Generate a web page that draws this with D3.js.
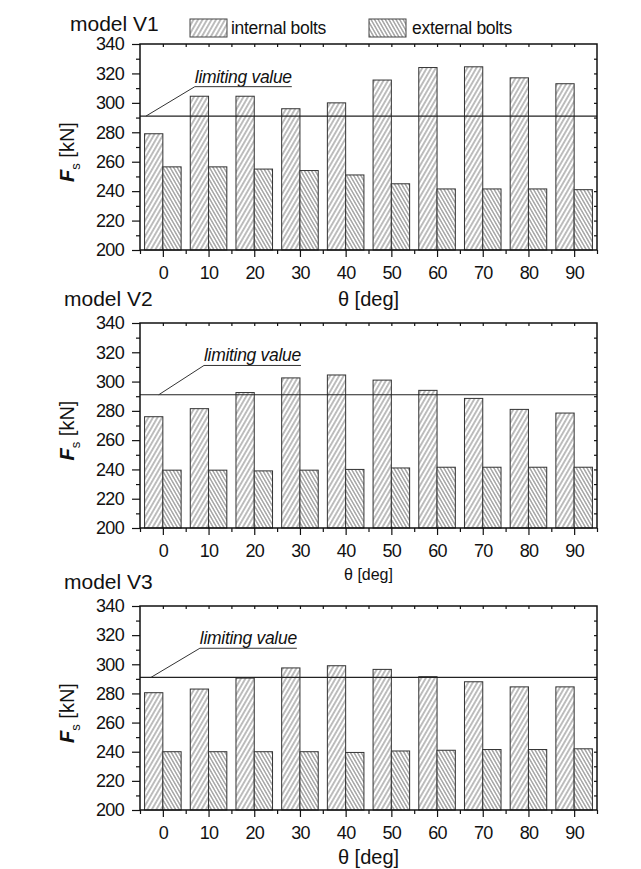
<!DOCTYPE html>
<html>
<head>
<meta charset="utf-8">
<script src="https://cdn.jsdelivr.net/npm/d3@7"></script>
<style>
  html, body { margin: 0; padding: 0; background: #fff; }
  svg { display: block; font-family: "Liberation Sans", Arial, sans-serif; }
</style>
</head>
<body>
<svg id="chart" width="641" height="869"></svg>
<script>
// ---------- data ----------
const categories = [0, 10, 20, 30, 40, 50, 60, 70, 80, 90];
const v1Internal = [279, 304.5, 304.5, 296, 300, 315.5, 324, 324.5, 317, 313];
const v1External = [256.5, 256.5, 255, 254, 251, 245, 241.5, 241.5, 241.5, 241];
const v2Internal = [276, 281.5, 292.5, 302.5, 304.5, 301, 294, 288.5, 281, 278.5];
const v2External = [239.5, 239.5, 239, 239.5, 240, 241, 241.5, 241.5, 241.5, 241.5];
const v3Internal = [280.5, 283, 290.5, 297.5, 299, 296.5, 291.5, 288, 284.5, 284.5];
const v3External = [240, 240, 240, 240, 239.5, 240.5, 241, 241.5, 241.5, 242];
const yTicks = [200, 220, 240, 260, 280, 300, 320, 340];
const limitingValue = 291;
const panelTitles = ["model V1", "model V2", "model V3"];
const seriesNames = ["internal bolts", "external bolts"];
const xTitle = "\u03B8 [deg]";
const limitLabel = "limiting value";

// ---------- layout ----------
const svg = d3.select("#chart");
const x = d3.scaleLinear().domain([-5, 95]).range([140, 597]);
const barHalf = 4; // in data units

const panels = [
  { title: panelTitles[0], internal: v1Internal, external: v1External, top: 44, bottom: 250,
    titleX: 70, titleY: 31, xTitleSize: 20, xTitleY: 306, leadStart: -3.7, leadKink: 7.0 },
  { title: panelTitles[1], internal: v2Internal, external: v2External, top: 323, bottom: 528,
    titleX: 64, titleY: 306, xTitleSize: 16, xTitleY: 580, leadStart: -0.9, leadKink: 9.0 },
  { title: panelTitles[2], internal: v3Internal, external: v3External, top: 606, bottom: 810,
    titleX: 64, titleY: 589, xTitleSize: 20, xTitleY: 864, leadStart: -2.6, leadKink: 8.1 }
];

// ---------- patterns ----------
const defs = svg.append("defs");
function hatch(id, spacing, angle) {
  const p = defs.append("pattern")
    .attr("id", id)
    .attr("patternUnits", "userSpaceOnUse")
    .attr("width", spacing).attr("height", spacing)
    .attr("patternTransform", `rotate(${angle})`);
  p.append("rect").attr("width", spacing).attr("height", spacing).attr("fill", "#fff");
  p.append("line").attr("x1", spacing / 2).attr("y1", 0).attr("x2", spacing / 2).attr("y2", spacing)
    .attr("stroke", "#5a5a5a").attr("stroke-width", 0.8);
}
hatch("hatchInt", 3.9, 30);
hatch("hatchExt", 3.1, -30);

panels.forEach((P, pi) => {
  const y = d3.scaleLinear().domain([200, 340]).range([P.bottom, P.top]);
  const g = svg.append("g");

  // bars
  const rows = categories.map((c, i) => ({ c, a: P.internal[i], b: P.external[i] }));
  g.selectAll("rect.int").data(rows).join("rect")
    .attr("x", d => x(d.c - barHalf)).attr("width", d => x(d.c) - x(d.c - barHalf))
    .attr("y", d => y(d.a)).attr("height", d => y(200) - y(d.a))
    .attr("fill", "url(#hatchInt)").attr("stroke", "#333").attr("stroke-width", 1);
  g.selectAll("rect.ext").data(rows).join("rect")
    .attr("x", d => x(d.c)).attr("width", d => x(d.c + barHalf) - x(d.c))
    .attr("y", d => y(d.b)).attr("height", d => y(200) - y(d.b))
    .attr("fill", "url(#hatchExt)").attr("stroke", "#333").attr("stroke-width", 1);

  // limiting line
  g.append("line")
    .attr("x1", x(-5)).attr("x2", x(95))
    .attr("y1", y(limitingValue)).attr("y2", y(limitingValue))
    .attr("stroke", "#222").attr("stroke-width", 1.2);

  // leader + label
  const uy = y(limitingValue + 20);
  const lbl = g.append("text")
    .attr("x", x(P.leadKink)).attr("y", uy - 4)
    .attr("font-size", 17.5).attr("font-style", "italic").attr("fill", "#111")
    .attr("letter-spacing", -0.3)
    .text(limitLabel);
  const len = lbl.node().getComputedTextLength();
  g.append("path")
    .attr("d", `M${x(P.leadStart)},${y(limitingValue)} L${x(P.leadKink)},${uy} L${x(P.leadKink) + len},${uy}`)
    .attr("fill", "none").attr("stroke", "#333").attr("stroke-width", 1);

  // axes
  const fontSize = 18;
  const left = g.append("g").attr("transform", `translate(${x(-5)},0)`)
    .call(d3.axisLeft(y).tickValues(yTicks).tickSize(8).tickPadding(8));
  left.select(".domain").remove();
  left.selectAll("text").attr("font-size", fontSize).attr("letter-spacing", -0.7)
    .attr("font-family", "Liberation Sans, Arial, sans-serif").attr("fill", "#111");
  const leftMinor = g.append("g").attr("transform", `translate(${x(-5)},0)`)
    .call(d3.axisLeft(y).tickValues(d3.range(210, 340, 20)).tickSize(4).tickFormat(""));
  leftMinor.select(".domain").remove();

  const right = g.append("g").attr("transform", `translate(${x(95)},0)`)
    .call(d3.axisRight(y).tickValues(d3.range(210, 340, 10)).tickSize(-3).tickFormat(""));
  right.select(".domain").remove();

  const top = g.append("g").attr("transform", `translate(0,${y(340)})`)
    .call(d3.axisTop(x).tickValues(d3.range(0, 95, 5)).tickSize(-3).tickFormat(""));
  top.select(".domain").remove();

  const bottom = g.append("g").attr("transform", `translate(0,${y(200)})`)
    .call(d3.axisBottom(x).tickValues(categories).tickSize(7).tickPadding(9).tickFormat(d3.format("d")));
  bottom.select(".domain").remove();
  bottom.selectAll("text").attr("font-size", fontSize).attr("letter-spacing", -0.7)
    .attr("font-family", "Liberation Sans, Arial, sans-serif").attr("fill", "#111");
  const bottomMinor = g.append("g").attr("transform", `translate(0,${y(200)})`)
    .call(d3.axisBottom(x).tickValues(d3.range(-5, 100, 10)).tickSize(4).tickFormat(""));
  bottomMinor.select(".domain").remove();

  g.selectAll(".tick line").attr("stroke", "#111").attr("stroke-width", 1.2);

  // frame
  g.append("rect")
    .attr("x", x(-5)).attr("y", y(340))
    .attr("width", x(95) - x(-5)).attr("height", y(200) - y(340))
    .attr("fill", "none").attr("stroke", "#111").attr("stroke-width", 1.5);

  // titles
  g.append("text").attr("x", P.titleX).attr("y", P.titleY)
    .attr("font-size", 21).attr("fill", "#111").text(P.title);
  g.append("text").attr("x", (x(-5) + x(95)) / 2).attr("y", P.xTitleY)
    .attr("text-anchor", "middle").attr("font-size", P.xTitleSize).attr("fill", "#111").text(xTitle);

  // y label
  const yl = g.append("text")
    .attr("transform", `translate(74,${(P.top + P.bottom) / 2 + 5}) rotate(-90)`)
    .attr("text-anchor", "middle").attr("font-size", 20).attr("fill", "#111");
  yl.append("tspan").attr("font-style", "italic").attr("font-weight", "bold").text("F");
  yl.append("tspan").attr("font-size", 13).attr("dy", 6).text("s");
  yl.append("tspan").attr("dy", -6).text(" [kN]");
});

// ---------- legend ----------
const leg = svg.append("g");
const legItems = [
  { name: seriesNames[0], fill: "url(#hatchInt)", bx: 190, tx: 231 },
  { name: seriesNames[1], fill: "url(#hatchExt)", bx: 369, tx: 412 }
];
legItems.forEach(L => {
  leg.append("rect").attr("x", L.bx).attr("y", 19).attr("width", 37).attr("height", 18)
    .attr("fill", L.fill).attr("stroke", "#444").attr("stroke-width", 1);
  leg.append("text").attr("x", L.tx).attr("y", 34).attr("font-size", 17.5).attr("letter-spacing", -0.3)
    .attr("fill", "#111").text(L.name);
});
</script>
</body>
</html>
